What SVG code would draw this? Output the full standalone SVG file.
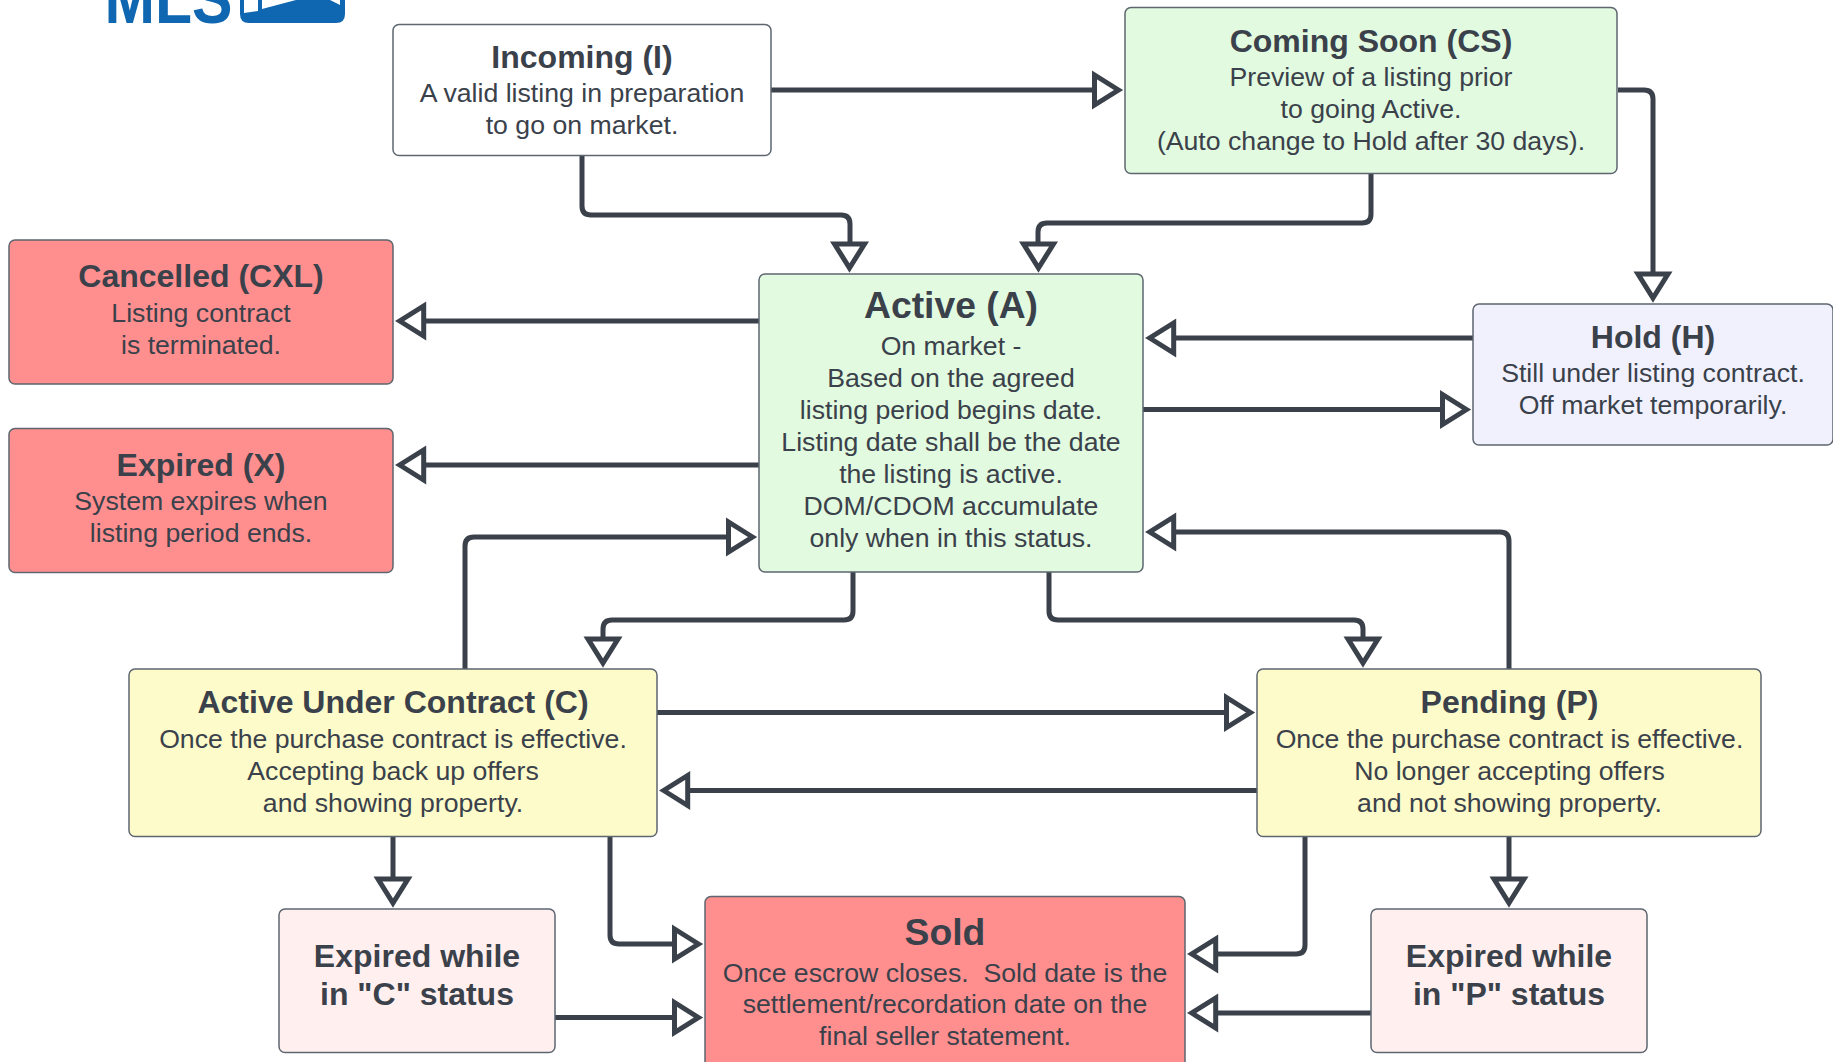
<svg xmlns="http://www.w3.org/2000/svg" width="1833" height="1062" viewBox="0 0 1833 1062">
<style>
text{font-family:"Liberation Sans",Arial,sans-serif;fill:#3a414a;text-anchor:middle}
.t{font-weight:700;font-size:32px}
.b{font-size:26.67px}
.n{stroke:#5e6670;stroke-width:1.5}
.c{fill:none;stroke:#3a414a;stroke-width:5;stroke-linejoin:round}
.a{fill:#fff;stroke:#3a414a;stroke-width:5;stroke-linejoin:miter}
.r{fill:#ff8f8f}.g{fill:#e2fae0}.y{fill:#fdfbca}.p{fill:#fff0ef}.l{fill:#f1f1fe}.w{fill:#fff}
</style>
<defs>
<path id="ar" d="M-4 0L-28 -15V15Z"/>
</defs>
<g id="logo">
<text x="168.500" y="23" style="font-size:70px;font-weight:700;fill:#0f66b1" textLength="128" lengthAdjust="spacingAndGlyphs">MLS</text>
<path d="M240 0H345V14Q345 23 336 23H249Q240 23 240 14Z" fill="#0f66b1"/>
<path d="M244 0H258V11L244 13ZM262 0H296L262 9Z" fill="#fff"/>
<path d="M330 0H340V5Z" fill="#fff"/>
</g>
<g id="connectors">
<path class="c" d="M771 90H1095"/><use href="#ar" class="a" transform="translate(1122.500 90)"/>
<path class="c" d="M582 156V206Q582 215 591 215H841Q850 215 850 224V245"/><use href="#ar" class="a" transform="translate(849.500 272) rotate(90)"/>
<path class="c" d="M1371 173V214Q1371 223 1362 223H1047Q1038 223 1038 232V245"/><use href="#ar" class="a" transform="translate(1038.500 272) rotate(90)"/>
<path class="c" d="M1618 90H1644Q1653 90 1653 99V275"/><use href="#ar" class="a" transform="translate(1653 302) rotate(90)"/>
<path class="c" d="M759 321H423"/><use href="#ar" class="a" transform="translate(395.700 321) rotate(180)"/>
<path class="c" d="M759 465H423"/><use href="#ar" class="a" transform="translate(395.700 465) rotate(180)"/>
<path class="c" d="M1473 338H1173"/><use href="#ar" class="a" transform="translate(1145.700 338) rotate(180)"/>
<path class="c" d="M1143 409.500H1443"/><use href="#ar" class="a" transform="translate(1470.500 409.500)"/>
<path class="c" d="M465 669V546Q465 537 474 537H729"/><use href="#ar" class="a" transform="translate(756.500 537)"/>
<path class="c" d="M1509 669V541Q1509 532 1500 532H1173"/><use href="#ar" class="a" transform="translate(1145.700 532) rotate(180)"/>
<path class="c" d="M853 572V611Q853 620 844 620H612Q603 620 603 629V640"/><use href="#ar" class="a" transform="translate(603 667) rotate(90)"/>
<path class="c" d="M1049 572V611Q1049 620 1058 620H1354Q1363 620 1363 629V640"/><use href="#ar" class="a" transform="translate(1363 667) rotate(90)"/>
<path class="c" d="M657 712.500H1227"/><use href="#ar" class="a" transform="translate(1254.500 712.500)"/>
<path class="c" d="M1257 790.500H687"/><use href="#ar" class="a" transform="translate(659.700 790.500) rotate(180)"/>
<path class="c" d="M393 836V880"/><use href="#ar" class="a" transform="translate(393 907) rotate(90)"/>
<path class="c" d="M1509 836V880"/><use href="#ar" class="a" transform="translate(1509 907) rotate(90)"/>
<path class="c" d="M610 836V935Q610 944 619 944H675"/><use href="#ar" class="a" transform="translate(702.500 944)"/>
<path class="c" d="M1305 836V945Q1305 954 1296 954H1215"/><use href="#ar" class="a" transform="translate(1187.700 954) rotate(180)"/>
<path class="c" d="M555 1017.500H675"/><use href="#ar" class="a" transform="translate(702.500 1017.500)"/>
<path class="c" d="M1371 1013H1215"/><use href="#ar" class="a" transform="translate(1187.700 1013) rotate(180)"/>
</g>
<g id="incoming"><rect class="n w" x="393" y="24.500" width="378" height="131" rx="6"/><text class="t" x="582" y="68">Incoming (I)</text><text class="b" x="582" y="102">A valid listing in preparation</text><text class="b" x="582" y="134">to go on market.</text></g>
<g id="coming-soon"><rect class="n g" x="1125" y="7.500" width="492" height="166" rx="6"/><text class="t" x="1371" y="52">Coming Soon (CS)</text><text class="b" x="1371" y="86">Preview of a listing prior</text><text class="b" x="1371" y="118">to going Active.</text><text class="b" x="1371" y="150">(Auto change to Hold after 30 days).</text></g>
<g id="cancelled"><rect class="n r" x="9" y="240" width="384" height="144" rx="6"/><text class="t" x="201" y="287">Cancelled (CXL)</text><text class="b" x="201" y="322">Listing contract</text><text class="b" x="201" y="354">is terminated.</text></g>
<g id="expired"><rect class="n r" x="9" y="428.500" width="384" height="144" rx="6"/><text class="t" x="201" y="476">Expired (X)</text><text class="b" x="201" y="510">System expires when</text><text class="b" x="201" y="542">listing period ends.</text></g>
<g id="active"><rect class="n g" x="759" y="274" width="384" height="298" rx="6"/><text x="951" y="318" style="font-weight:700;font-size:37.300px">Active (A)</text><text class="b" x="951" y="355">On market -</text><text class="b" x="951" y="387">Based on the agreed</text><text class="b" x="951" y="419">listing period begins date.</text><text class="b" x="951" y="451">Listing date shall be the date</text><text class="b" x="951" y="483">the listing is active.</text><text class="b" x="951" y="515">DOM/CDOM accumulate</text><text class="b" x="951" y="547">only when in this status.</text></g>
<g id="hold"><rect class="n l" x="1473" y="304" width="360" height="141" rx="6"/><text class="t" x="1653" y="348">Hold (H)</text><text class="b" x="1653" y="382">Still under listing contract.</text><text class="b" x="1653" y="414">Off market temporarily.</text></g>
<g id="auc"><rect class="n y" x="129" y="669" width="528" height="167.500" rx="6"/><text class="t" x="393" y="713">Active Under Contract (C)</text><text class="b" x="393" y="748">Once the purchase contract is effective.</text><text class="b" x="393" y="780">Accepting back up offers</text><text class="b" x="393" y="812">and showing property.</text></g>
<g id="pending"><rect class="n y" x="1257" y="669" width="504" height="167.500" rx="6"/><text class="t" x="1509.500" y="713">Pending (P)</text><text class="b" x="1509.500" y="748">Once the purchase contract is effective.</text><text class="b" x="1509.500" y="780">No longer accepting offers</text><text class="b" x="1509.500" y="812">and not showing property.</text></g>
<g id="expired-c"><rect class="n p" x="279" y="909" width="276" height="143.500" rx="6"/><text class="t" x="417" y="967">Expired while</text><text class="t" x="417" y="1005">in "C" status</text></g>
<g id="sold"><rect class="n r" x="705" y="896.500" width="480" height="180" rx="6"/><text x="945" y="945" style="font-weight:700;font-size:37.300px">Sold</text><text class="b" x="945" y="982" xml:space="preserve">Once escrow closes.  Sold date is the</text><text class="b" x="945" y="1013">settlement/recordation date on the</text><text class="b" x="945" y="1045">final seller statement.</text></g>
<g id="expired-p"><rect class="n p" x="1371" y="909" width="276" height="143.500" rx="6"/><text class="t" x="1509" y="967">Expired while</text><text class="t" x="1509" y="1005">in "P" status</text></g>
</svg>
